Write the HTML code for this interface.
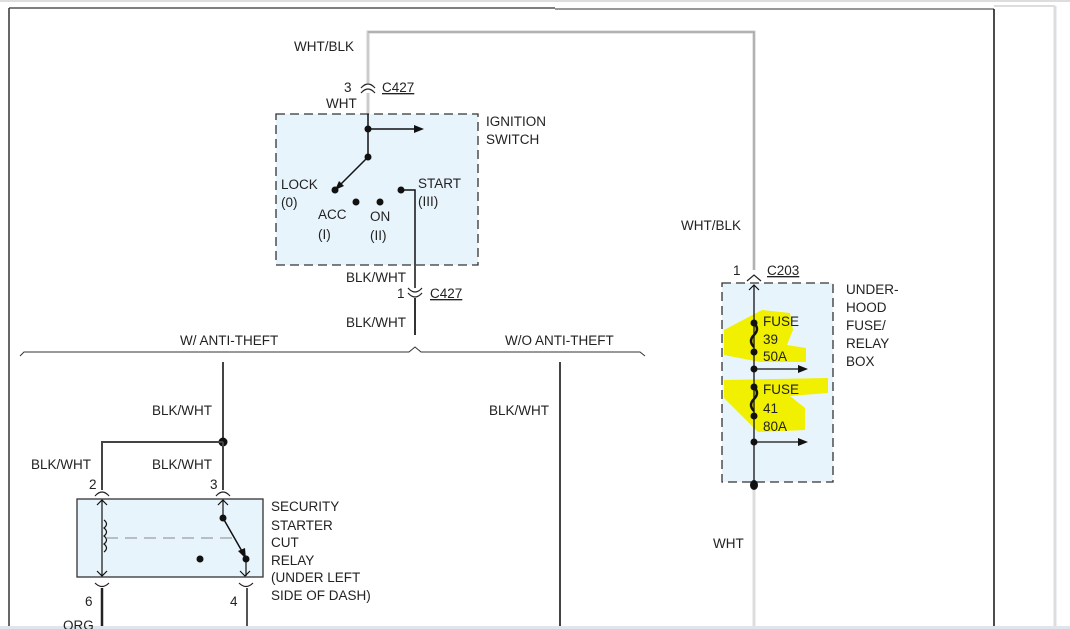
<!DOCTYPE html><html><head><style>body{margin:0;background:#fff}svg{display:block}text{font-family:"Liberation Sans",sans-serif;font-size:13.5px;fill:#222}</style></head><body>
<svg width="1070" height="629" viewBox="0 0 1070 629">
<rect x="0" y="0" width="1070" height="629" fill="#fff"/>
<line x1="0" y1="1" x2="1070" y2="1" stroke="#ddd" stroke-width="2"/>
<line x1="9" y1="8" x2="555" y2="8" stroke="#555" stroke-width="1.5"/>
<line x1="555" y1="9" x2="994" y2="9" stroke="#777" stroke-width="1.5"/>
<line x1="9" y1="8" x2="9" y2="629" stroke="#333" stroke-width="1.5"/>
<line x1="994" y1="9" x2="994" y2="626" stroke="#111" stroke-width="1.5"/>
<line x1="1055" y1="6" x2="1055" y2="626" stroke="#ddd" stroke-width="3"/>
<line x1="994" y1="6" x2="1055" y2="6" stroke="#ddd" stroke-width="2"/>
<rect x="0" y="626" width="1070" height="3" fill="#dfe5ea"/>
<path d="M368 83 V32 H754 V270" fill="none" stroke="#ccc" stroke-width="3"/>
<path d="M368 32 H754 V270" fill="none" stroke="#999" stroke-width="1"/>
<text x="294" y="51">WHT/BLK</text>
<text x="681" y="230">WHT/BLK</text>
<path d="M361 88 Q368 80 375 88 M361 93 Q368 85 375 93" fill="none" stroke="#222" stroke-width="1.2"/>
<line x1="368" y1="93" x2="368" y2="114" stroke="#ccc" stroke-width="3"/>
<text x="344" y="92">3</text><text x="382" y="92" text-decoration="underline">C427</text>
<text x="326" y="108">WHT</text>
<rect x="276" y="114" width="202" height="151" fill="#e8f4fc" stroke="#333" stroke-dasharray="9,5" stroke-width="1.3"/>
<text x="486" y="126">IGNITION</text><text x="486" y="144">SWITCH</text>
<line x1="368" y1="114" x2="368" y2="157" stroke="#111" stroke-width="1.5"/>
<line x1="368" y1="129" x2="416" y2="129" stroke="#111" stroke-width="1.5"/>
<polygon points="424,129 414,125 414,133" fill="#111"/>
<circle cx="368" cy="129" r="3.5" fill="#111"/><circle cx="368" cy="157" r="3.5" fill="#111"/>
<line x1="368" y1="157" x2="340" y2="185" stroke="#111" stroke-width="1.5"/>
<polygon points="335,190 344,186 339,181" fill="#111"/>
<circle cx="335" cy="190" r="3.5" fill="#111"/><circle cx="356" cy="202" r="3.5" fill="#111"/><circle cx="380" cy="202" r="3.5" fill="#111"/><circle cx="401" cy="190" r="3.5" fill="#111"/>
<path d="M401 190 H415 V288" fill="none" stroke="#111" stroke-width="1.5"/>
<text x="281" y="189">LOCK</text><text x="281" y="207">(0)</text>
<text x="318" y="219">ACC</text><text x="318" y="239">(I)</text>
<text x="370" y="221">ON</text><text x="370" y="240">(II)</text>
<text x="418" y="188">START</text><text x="418" y="206">(III)</text>
<text x="346" y="282">BLK/WHT</text>
<path d="M408 288 Q415 296 422 288 M408 293 Q415 301 422 293" fill="none" stroke="#222" stroke-width="1.2"/>
<line x1="415" y1="298" x2="415" y2="335" stroke="#333" stroke-width="2"/>
<text x="397" y="298">1</text><text x="430" y="298" text-decoration="underline">C427</text>
<text x="346" y="327">BLK/WHT</text>
<path d="M20 356 L24 352 H409 L415 347 L421 352 H640 L645 356" fill="none" stroke="#333" stroke-width="1"/>
<text x="180" y="345">W/ ANTI-THEFT</text>
<text x="505" y="345">W/O ANTI-THEFT</text>
<line x1="223" y1="362" x2="223" y2="442" stroke="#444" stroke-width="2"/>
<line x1="560" y1="362" x2="560" y2="626" stroke="#444" stroke-width="2"/>
<text x="489" y="415">BLK/WHT</text>
<text x="152" y="415">BLK/WHT</text>
<circle cx="223" cy="442" r="4.5" fill="#111"/>
<path d="M223 442 H102 V490" fill="none" stroke="#444" stroke-width="2"/>
<line x1="223" y1="442" x2="223" y2="490" stroke="#444" stroke-width="2"/>
<text x="31" y="469">BLK/WHT</text><text x="152" y="469">BLK/WHT</text>
<text x="89" y="489">2</text><text x="210" y="489">3</text>
<path d="M95 496 Q102 488 109 496 M216 496 Q223 488 230 496" fill="none" stroke="#222" stroke-width="1.2"/>
<rect x="77" y="499" width="186" height="78" fill="#e8f4fc" stroke="#333" stroke-width="1.3"/>
<line x1="102" y1="500" x2="102" y2="576" stroke="#111" stroke-width="1.2"/>
<path d="M97 505 L102 500 L107 505 M97 571 L102 576 L107 571 M218 505 L223 500 L228 505 M240 571 L245 576 L250 571" fill="none" stroke="#111" stroke-width="1.2"/>
<path d="M104 520 q5 4 0 8 q5 4 0 8 q5 4 0 8 q5 4 0 8" fill="none" stroke="#111" stroke-width="1.2"/>
<line x1="106" y1="538" x2="235" y2="538" stroke="#888" stroke-dasharray="12,7"/>
<line x1="223" y1="500" x2="223" y2="518" stroke="#111" stroke-width="1.2"/>
<circle cx="223" cy="518" r="3.5" fill="#111"/>
<line x1="223" y1="518" x2="243" y2="553" stroke="#111" stroke-width="1.5"/>
<polygon points="246,559 238,551 245,548" fill="#111"/>
<circle cx="246" cy="559" r="3.5" fill="#111"/><circle cx="200" cy="559" r="3.5" fill="#111"/>
<line x1="246" y1="559" x2="246" y2="576" stroke="#111" stroke-width="1.2"/>
<path d="M95 583 Q102 590 109 583 M239 583 Q246 590 253 583" fill="none" stroke="#222" stroke-width="1.2"/>
<line x1="102" y1="588" x2="102" y2="626" stroke="#222" stroke-width="2.5"/>
<line x1="247" y1="588" x2="247" y2="626" stroke="#555" stroke-width="2"/>
<text x="85" y="606">6</text><text x="230" y="606">4</text><text x="63" y="630">ORG</text>
<text x="271" y="511">SECURITY</text><text x="271" y="530">STARTER</text><text x="271" y="547">CUT</text><text x="271" y="565">RELAY</text><text x="271" y="582">(UNDER LEFT</text><text x="271" y="600">SIDE OF DASH)</text>
<text x="733" y="275">1</text><text x="767" y="275" text-decoration="underline">C203</text>
<path d="M747 281 L754 275 L761 281" fill="none" stroke="#222" stroke-width="1.2"/>
<rect x="722" y="283" width="111" height="199" fill="#e8f4fc" stroke="#333" stroke-dasharray="9,5" stroke-width="1.3"/>
<text x="846" y="294">UNDER-</text><text x="846" y="312">HOOD</text><text x="846" y="330">FUSE/</text><text x="846" y="348">RELAY</text><text x="846" y="366">BOX</text>
<path d="M762 310 L790 313 L793 330 L787 345 L806 348 L806 362 L760 362 L724 355 L724 330 Z" fill="#f0f000"/>
<path d="M724 380 L828 378 L828 393 L790 396 L805 408 L805 430 L758 432 L724 398 Z" fill="#f0f000"/>
<line x1="754" y1="285" x2="754" y2="482" stroke="#111" stroke-width="1.3"/>
<path d="M749 290 L754 285 L759 290" fill="none" stroke="#111" stroke-width="1.2"/>
<path d="M754 323 q6 6 0 12 q-6 6 0 12 M754 387 q6 6 0 12 q-6 6 0 12" fill="none" stroke="#111" stroke-width="2.5"/>
<circle cx="754" cy="323" r="3.5" fill="#111"/><circle cx="754" cy="352" r="3.5" fill="#111"/><circle cx="754" cy="369" r="3.5" fill="#111"/>
<circle cx="754" cy="387" r="3.5" fill="#111"/><circle cx="754" cy="416" r="3.5" fill="#111"/><circle cx="754" cy="442" r="3.5" fill="#111"/>
<line x1="754" y1="369" x2="800" y2="369" stroke="#111" stroke-width="1.3"/><polygon points="808,369 798,365 798,373" fill="#111"/>
<line x1="754" y1="442" x2="800" y2="442" stroke="#111" stroke-width="1.3"/><polygon points="808,442 798,438 798,446" fill="#111"/>
<text x="763" y="326">FUSE</text><text x="763" y="344">39</text><text x="763" y="361">50A</text>
<text x="763" y="394">FUSE</text><text x="763" y="413">41</text><text x="763" y="431">80A</text>
<ellipse cx="754" cy="485" rx="4" ry="5" fill="#111"/>
<line x1="754" y1="490" x2="754" y2="626" stroke="#ddd" stroke-width="3"/>
<text x="713" y="548">WHT</text>
</svg></body></html>
